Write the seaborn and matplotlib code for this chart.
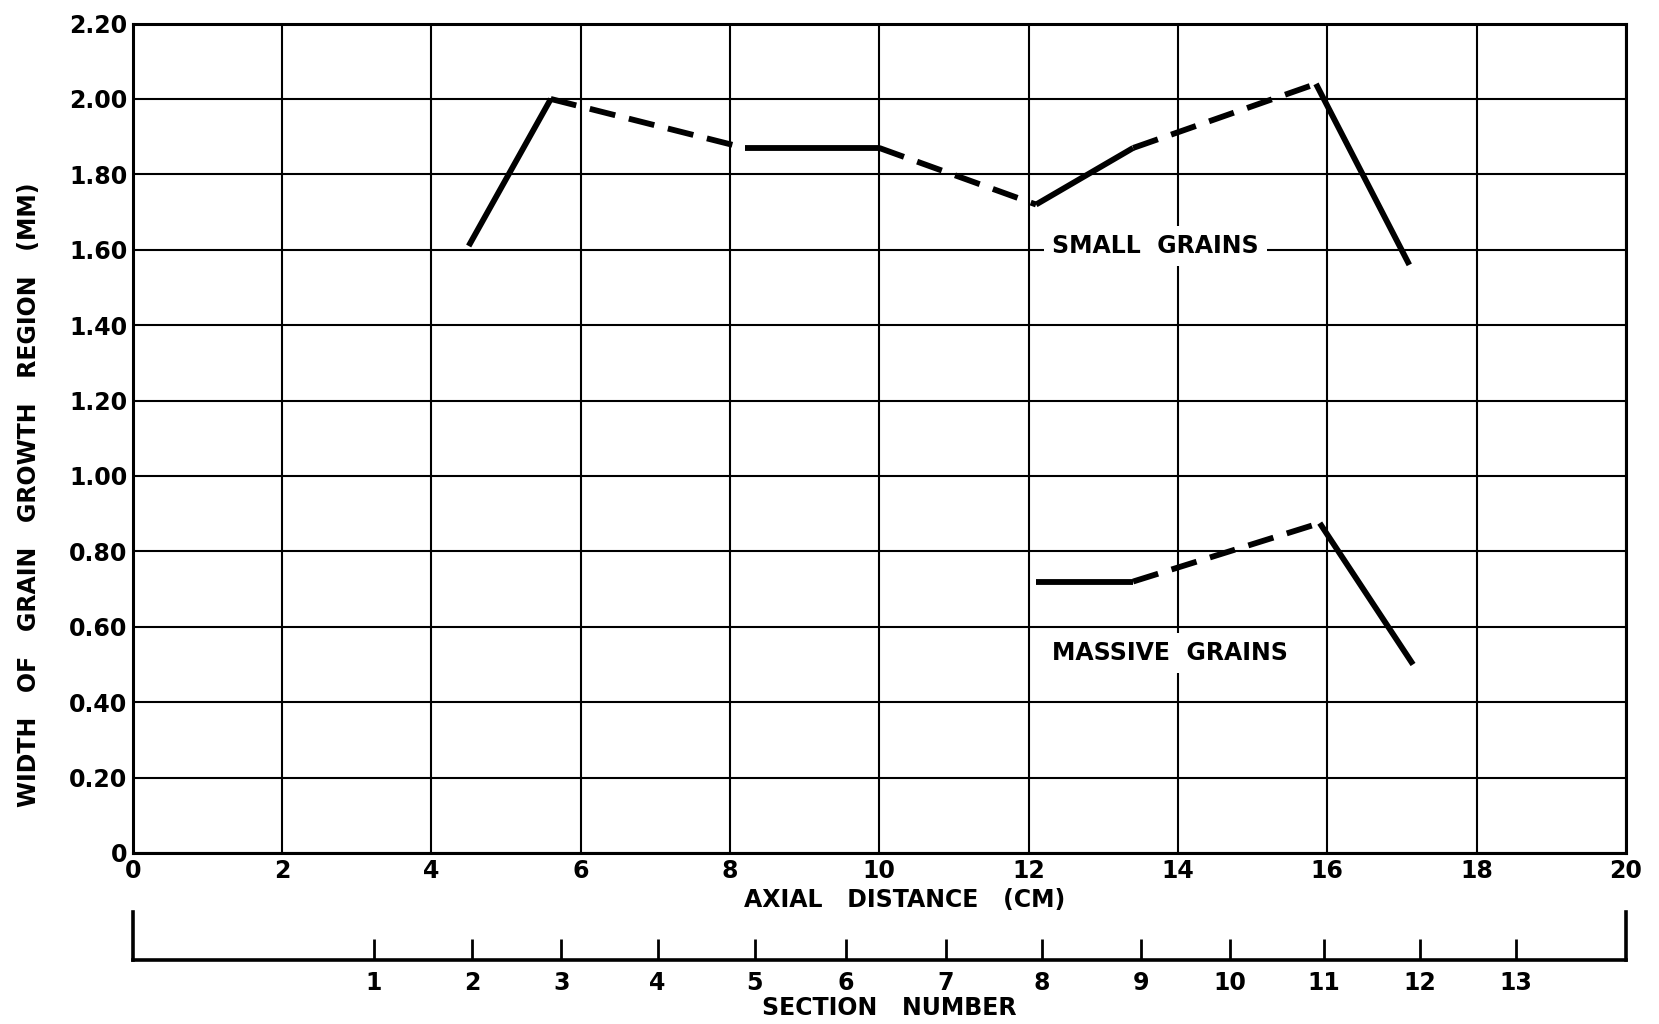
import numpy as np
import pandas as pd
import matplotlib
matplotlib.use("Agg")
import matplotlib.pyplot as plt
import seaborn as sns

# ---- data ----
small_x = [4.5, 5.6, 8.2, 10.0, 12.1, 13.4, 15.85, 17.1]
small_y = [1.61, 2.00, 1.87, 1.87, 1.72, 1.87, 2.04, 1.56]
small_styles = ["solid", "dashed", "solid", "dashed", "solid", "dashed", "solid"]

massive_x = [12.1, 13.4, 15.9, 17.15]
massive_y = [0.72, 0.72, 0.875, 0.50]
massive_styles = ["solid", "dashed", "solid"]

x_ticks = [0, 2, 4, 6, 8, 10, 12, 14, 16, 18, 20]
y_ticks = [0, 0.2, 0.4, 0.6, 0.8, 1.0, 1.2, 1.4, 1.6, 1.8, 2.0, 2.2]
y_tick_labels = ["0", "0.20", "0.40", "0.60", "0.80", "1.00", "1.20", "1.40",
                 "1.60", "1.80", "2.00", "2.20"]

section_numbers = ["1", "2", "3", "4", "5", "6", "7", "8", "9", "10", "11", "12", "13"]
section_positions_cm = [3.23, 4.55, 5.74, 7.03, 8.33, 9.55, 10.89, 12.18, 13.51,
                        14.70, 15.96, 17.24, 18.53]


def segments(name, xs, ys, styles):
    rows = []
    for i, st in enumerate(styles):
        for j in (i, i + 1):
            rows.append({"series": name, "seg": f"{name}-{i}", "style": st,
                         "x": xs[j], "y": ys[j]})
    return rows


df = pd.DataFrame(segments("small", small_x, small_y, small_styles)
                  + segments("massive", massive_x, massive_y, massive_styles))

sns.set_theme(style="white")
plt.rcParams["font.family"] = ["DejaVu Sans"]
plt.rcParams["font.weight"] = "bold"
plt.rcParams["text.color"] = "black"
plt.rcParams["xtick.color"] = "black"
plt.rcParams["ytick.color"] = "black"
plt.rcParams["xtick.labelcolor"] = "black"
plt.rcParams["ytick.labelcolor"] = "black"

fig = plt.figure(figsize=(16.59, 10.24), dpi=100)
ax = fig.add_axes([0.080, 0.167, 0.900, 0.810])

sns.lineplot(data=df, x="x", y="y", units="seg", style="style",
             dashes={"solid": "", "dashed": (4.5, 2.4)}, estimator=None,
             color="black", linewidth=4.2, legend=False, ax=ax,
             solid_capstyle="butt", dash_capstyle="butt")

ax.set_xlim(0, 20)
ax.set_ylim(0, 2.2)
ax.set_xticks(x_ticks)
ax.set_xticklabels([str(t) for t in x_ticks], fontsize=17, fontweight="bold",
                   color="black")
ax.set_yticks(y_ticks)
ax.set_yticklabels(y_tick_labels, fontsize=17, fontweight="bold", color="black")
ax.grid(True, color="black", linewidth=1.5)
ax.set_axisbelow(True)
for sp in ax.spines.values():
    sp.set_visible(True)
    sp.set_color("black")
    sp.set_linewidth(2.2)
ax.tick_params(axis="both", length=0, pad=4)
ax.set_xlabel("")
ax.set_ylabel("")

ax.text(13.7, 1.61, "SMALL  GRAINS", fontsize=17, fontweight="bold",
        ha="center", va="center", color="black",
        bbox=dict(facecolor="white", edgecolor="none", pad=6))
ax.text(13.9, 0.53, "MASSIVE  GRAINS", fontsize=17, fontweight="bold",
        ha="center", va="center", color="black",
        bbox=dict(facecolor="white", edgecolor="none", pad=6))

fig.text(0.5455, 0.121, "AXIAL   DISTANCE   (CM)", fontsize=17,
         fontweight="bold", ha="center", va="center", color="black")
fig.text(0.0172, 0.517, "WIDTH   OF   GRAIN   GROWTH   REGION   (MM)",
         fontsize=17, fontweight="bold", ha="center", va="center",
         rotation=90, color="black")

# section-number scale
ax2 = fig.add_axes([0.080, 0.0625, 0.900, 0.047])
ax2.set_xlim(0, 20)
ax2.set_ylim(0, 1)
ax2.set_facecolor("none")
ax2.set_xticks(section_positions_cm)
ax2.set_xticklabels(section_numbers, fontsize=17, fontweight="bold",
                    color="black")
ax2.set_yticks([])
ax2.tick_params(axis="x", which="major", bottom=True, top=False,
                direction="in", length=15, width=2, pad=8, color="black")
ax2.spines["top"].set_visible(False)
for side in ("bottom", "left", "right"):
    ax2.spines[side].set_visible(True)
    ax2.spines[side].set_color("black")
    ax2.spines[side].set_linewidth(2.6)

fig.text(0.536, 0.0156, "SECTION   NUMBER", fontsize=17, fontweight="bold",
         ha="center", va="center", color="black")

fig.savefig("out.png", dpi=100, facecolor="white")
